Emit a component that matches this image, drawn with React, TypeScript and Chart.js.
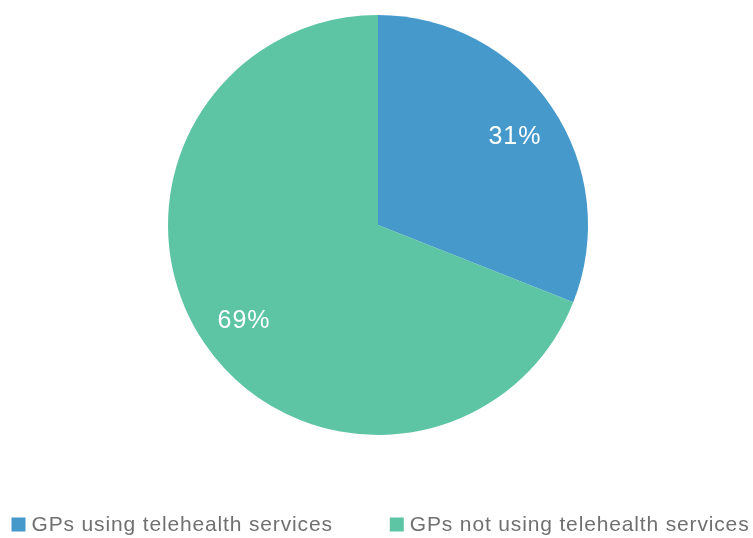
import React, { useEffect, useRef } from "react";
import { Chart, registerables } from "chart.js";

Chart.register(...registerables);

const categories = ["GPs using telehealth services", "GPs not using telehealth services"];
const values = [31, 69];
const valueLabels = ["31%", "69%"];
const colors = ["#4599CB", "#5DC4A4"];

const FONT = "'Liberation Sans', Arial, Helvetica, sans-serif";

const sliceLabels = {
  id: "sliceLabels",
  afterDatasetsDraw(chart: any) {
    const ctx = chart.ctx;
    const meta = chart.getDatasetMeta(0);
    ctx.save();
    ctx.fillStyle = "#ffffff";
    ctx.font = `25px ${FONT}`;
    (ctx as any).letterSpacing = "1px";
    ctx.textAlign = "center";
    ctx.textBaseline = "middle";
    meta.data.forEach((arc: any, i: number) => {
      const { x, y, startAngle, endAngle, outerRadius } = arc.getProps(
        ["x", "y", "startAngle", "endAngle", "outerRadius"],
        true
      );
      const mid = (startAngle + endAngle) / 2;
      const r = outerRadius * 0.78;
      ctx.fillText(valueLabels[i], x + Math.cos(mid) * r + 1.5, y + Math.sin(mid) * r + 4);
    });
    ctx.restore();
  },
};

const bottomLegend = {
  id: "bottomLegend",
  afterDraw(chart: any) {
    const ctx = chart.ctx;
    ctx.save();
    ctx.font = `21px ${FONT}`;
    (ctx as any).letterSpacing = "0.85px";
    ctx.textBaseline = "middle";
    const box = 14;
    const gapText = 6;
    const gapItem = 57;
    const widths = categories.map((c) => box + gapText + ctx.measureText(c).width);
    const total = widths.reduce((a, b) => a + b, 0) + gapItem * (categories.length - 1);
    let x = (chart.width - total) / 2 + 4;
    const y = 524.5;
    categories.forEach((c, i) => {
      ctx.fillStyle = colors[i];
      ctx.fillRect(x, y - box / 2, box, box);
      ctx.fillStyle = "#707070";
      ctx.fillText(c, x + box + gapText, y + 1);
      x += widths[i] + gapItem;
    });
    ctx.restore();
  },
};

export default function App() {
  const ref = useRef<HTMLCanvasElement>(null);
  useEffect(() => {
    document.body.style.margin = "0";
    const chart = new Chart(ref.current!, {
      type: "pie",
      data: {
        labels: categories,
        datasets: [
          {
            data: values,
            backgroundColor: colors,
            borderWidth: 0,
          },
        ],
      },
      options: {
        animation: false,
        responsive: false,
        layout: { padding: { top: 15, bottom: 103, left: 3, right: 0 } },
        plugins: {
          legend: { display: false },
          tooltip: { enabled: false },
        },
      },
      plugins: [sliceLabels, bottomLegend],
    });
    return () => chart.destroy();
  }, []);
  return (
    <div style={{ width: 753, height: 538 }}>
      <canvas ref={ref} width={753} height={538} style={{ display: "block" }} />
    </div>
  );
}
